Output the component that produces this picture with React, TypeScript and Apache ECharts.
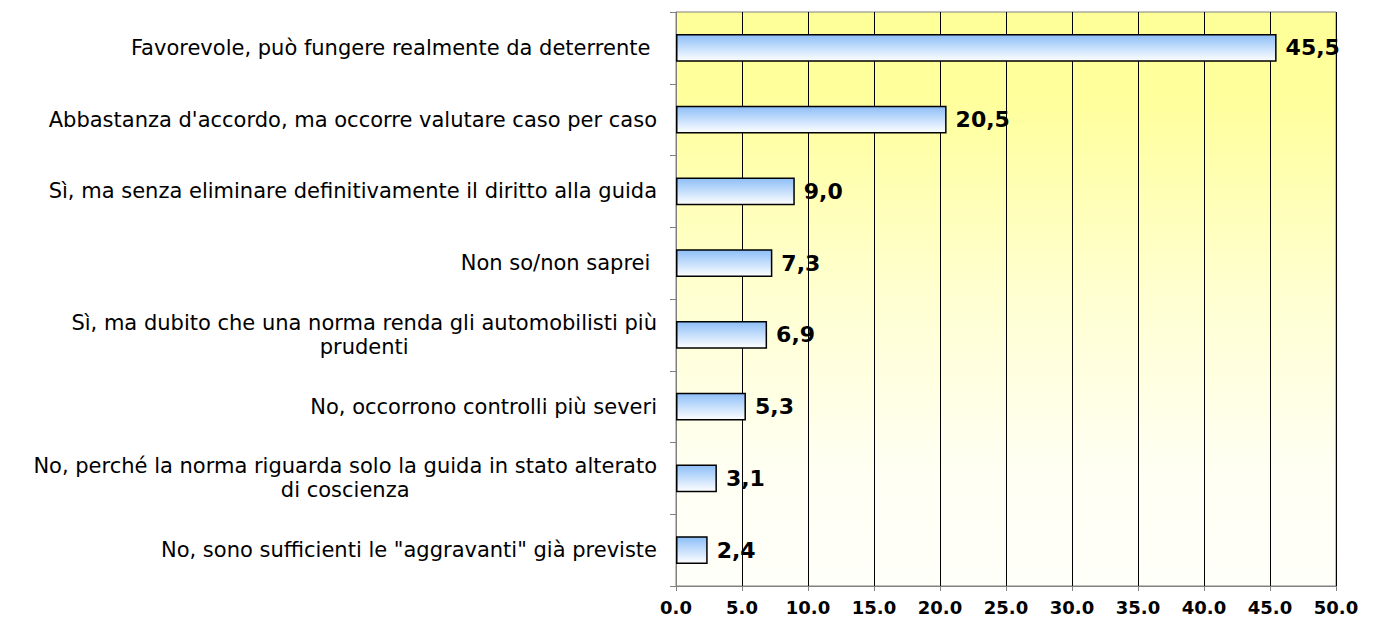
import React, { useEffect, useRef } from "react";
import * as echarts from "echarts";

const categories: string[] = [
  "Favorevole, può fungere realmente da deterrente ",
  "Abbastanza d'accordo, ma occorre valutare caso per caso",
  "Sì, ma senza eliminare definitivamente il diritto alla guida",
  "Non so/non saprei ",
  "Sì, ma dubito che una norma renda gli automobilisti più\nprudenti",
  "No, occorrono controlli più severi",
  "No, perché la norma riguarda solo la guida in stato alterato\ndi coscienza",
  "No, sono sufficienti le \"aggravanti\" già previste",
];
const values: number[] = [45.5, 20.5, 9.0, 7.3, 6.9, 5.3, 3.1, 2.4];
const axisMin = 0;
const axisMax = 50;
const axisStep = 5;

export default function App() {
  const ref = useRef<HTMLDivElement>(null);
  useEffect(() => {
    if (!ref.current) return;
    const chart = echarts.init(ref.current, undefined, { renderer: "svg" });
    chart.setOption({
      animation: false,
      grid: {
        left: 676,
        top: 12,
        right: 39,
        bottom: 34,
        show: true,
        borderColor: "#808080",
        borderWidth: 1,
        backgroundColor: new echarts.graphic.LinearGradient(0, 0, 0, 1, [
          { offset: 0, color: "#FFFF99" },
          { offset: 0.15, color: "#FFFF9C" },
          { offset: 0.5, color: "#FFFFD2" },
          { offset: 0.8, color: "#FFFFF3" },
          { offset: 1, color: "#FFFFFA" },
        ]),
      },
      xAxis: {
        type: "value",
        min: axisMin,
        max: axisMax,
        interval: axisStep,
        axisLine: { show: true, lineStyle: { color: "#808080", width: 1 } },
        axisTick: { show: true, length: 5, lineStyle: { color: "#808080" } },
        splitLine: { show: true, lineStyle: { color: "#000000", width: 1 } },
        axisLabel: {
          formatter: (v: number) => v.toFixed(1),
          fontFamily: "DejaVu Sans",
          fontWeight: "bold",
          fontSize: 18,
          color: "#000",
          margin: 12,
        },
      },
      yAxis: {
        type: "category",
        inverse: true,
        data: categories,
        axisLine: { show: true, lineStyle: { color: "#808080", width: 1 } },
        axisTick: { show: true, length: 6, alignWithLabel: false, lineStyle: { color: "#808080" } },
        axisLabel: {
          margin: 19,
          formatter: (v: string) => `{a|${v}}`,
          rich: {
            a: {
              fontFamily: "DejaVu Sans",
              fontSize: 21,
              color: "#000",
              align: "center",
              lineHeight: 24,
            },
          },
        },
      },
      series: [
        {
          type: "bar",
          data: values,
          barWidth: "39%",
          itemStyle: {
            color: new echarts.graphic.LinearGradient(0, 0, 0, 1, [
              { offset: 0, color: "#8CBEF8" },
              { offset: 1, color: "#FFFFFF" },
            ]),
            borderColor: "#000",
            borderWidth: 1.5,
          },
          label: {
            show: true,
            position: "right",
            distance: 9,
            formatter: (p: any) => Number(p.value).toFixed(1).replace(".", ","),
            fontFamily: "DejaVu Sans",
            fontWeight: "bold",
            fontSize: 22,
            color: "#000",
          },
        },
      ],
    });
    return () => chart.dispose();
  }, []);
  return (
    <div
      ref={ref}
      style={{ position: "absolute", left: 0, top: 0, width: 1375, height: 620 }}
    />
  );
}
